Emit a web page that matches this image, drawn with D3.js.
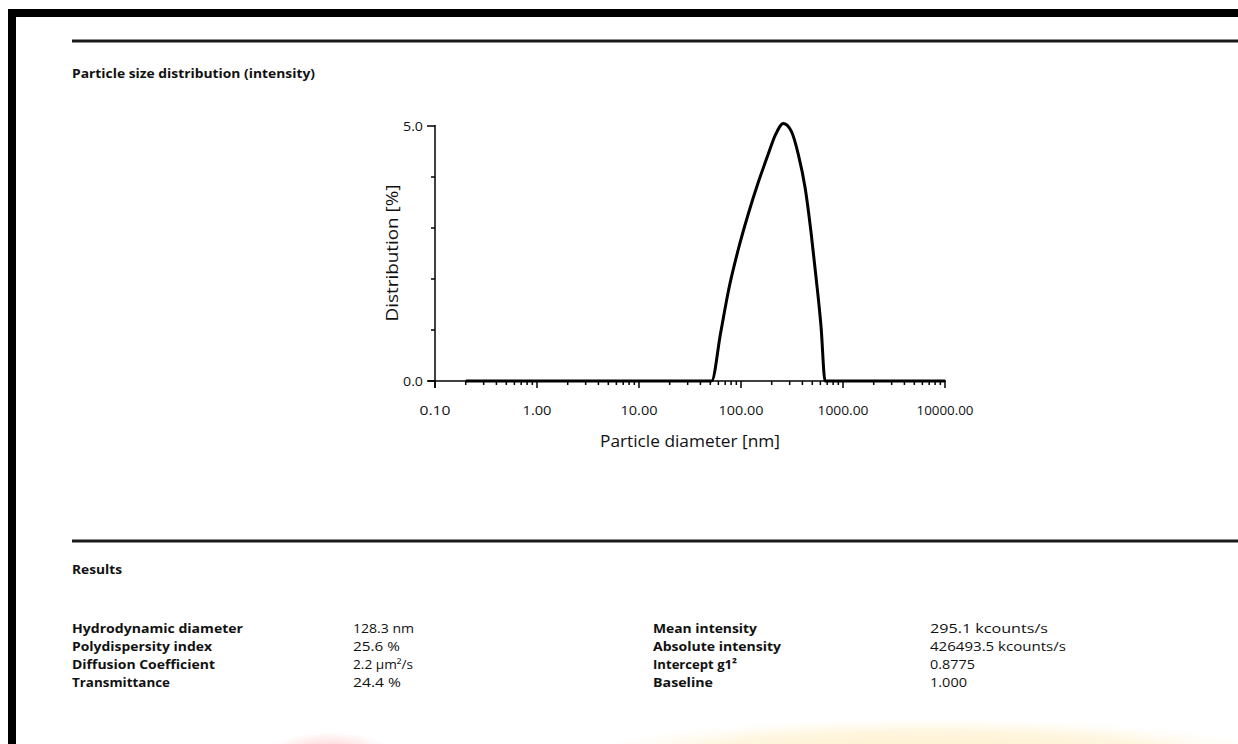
<!DOCTYPE html>
<html><head><meta charset="utf-8">
<script src="https://cdn.jsdelivr.net/npm/d3@7/dist/d3.min.js"></script>
<style>html,body{margin:0;padding:0;background:#fff;}svg{display:block;}</style>
</head><body>
<svg id="c" width="1238" height="744"></svg>
<script>
// ---- data ----
const diameters = [0.2, 0.5, 1, 5, 10, 30, 51.5, 63.1, 75.5, 94.6, 118, 148, 185, 217, 260, 311, 364, 426, 487, 545, 610, 667, 1000, 5000, 10000];
const distribution = [0, 0, 0, 0, 0, 0, 0, 0.94, 1.78, 2.60, 3.28, 3.90, 4.45, 4.82, 5.05, 4.90, 4.45, 3.78, 2.90, 2.02, 1.05, 0, 0, 0, 0];
const xTickValues = [0.1, 1, 10, 100, 1000, 10000];
const xTickLabels = ["0.10", "1.00", "10.00", "100.00", "1000.00", "10000.00"];
const yTickValues = [0, 5];
const yTickLabels = ["0.0", "5.0"];
const resultLabelsLeft = ["Hydrodynamic diameter", "Polydispersity index", "Diffusion Coefficient", "Transmittance"];
const resultValuesLeft = ["128.3 nm", "25.6 %", "2.2 \u00b5m\u00b2/s", "24.4 %"];
const resultLabelsRight = ["Mean intensity", "Absolute intensity", "Intercept g1\u00b2", "Baseline"];
const resultValuesRight = ["295.1 kcounts/s", "426493.5 kcounts/s", "0.8775", "1.000"];
// measured text widths (px) in the reference
const wLabelsLeft = [171, 140, 143, 98];
const wValuesLeft = [61, 47, 60, 48];
const wLabelsRight = [104, 128, 84, 60];
const wValuesRight = [118, 136, 45, 37];
const wXTicks = [31, 29, 37, 45, 51, 57];

const svg = d3.select("#c");
const FONT = "'Open Sans', 'Liberation Sans', sans-serif";

// faint watermark at the bottom
const defs = svg.append("defs");
const rg = defs.append("radialGradient").attr("id","pink");
rg.append("stop").attr("offset","0%").attr("stop-color","#ff6b6b").attr("stop-opacity",0.35);
rg.append("stop").attr("offset","100%").attr("stop-color","#ff6b6b").attr("stop-opacity",0);
const yg = defs.append("radialGradient").attr("id","yel");
yg.append("stop").attr("offset","0%").attr("stop-color","#ffe9b8").attr("stop-opacity",0.9);
yg.append("stop").attr("offset","70%").attr("stop-color","#fff0cc").attr("stop-opacity",0.6);
yg.append("stop").attr("offset","100%").attr("stop-color","#fff6e0").attr("stop-opacity",0);
svg.append("ellipse").attr("cx",930).attr("cy",760).attr("rx",360).attr("ry",42).attr("fill","url(#yel)");
svg.append("ellipse").attr("cx",330).attr("cy",752).attr("rx",60).attr("ry",20).attr("fill","url(#pink)");

// black frame (top and left)
svg.append("rect").attr("x",8).attr("y",9).attr("width",1230).attr("height",8).attr("fill","#000");
svg.append("rect").attr("x",8).attr("y",9).attr("width",8).attr("height",735).attr("fill","#000");

// horizontal rules
[41, 541].forEach(y => {
  svg.append("line").attr("x1",72).attr("x2",1238).attr("y1",y).attr("y2",y)
    .attr("stroke","#1a1a1a").attr("stroke-width",3);
});

function txt(x, y, s, opts) {
  const t = svg.append("text").attr("x",x).attr("y",y).text(s)
    .attr("font-family",FONT).attr("font-size",opts.size||13)
    .attr("font-weight",opts.bold?"bold":"normal").attr("fill","#111");
  if (opts.w) t.attr("textLength",opts.w).attr("lengthAdjust","spacingAndGlyphs");
  if (opts.anchor) t.attr("text-anchor",opts.anchor);
  return t;
}

txt(72, 78, "Particle size distribution (intensity)", {bold:true, size:13, w:243});

// ---- chart ----
const x = d3.scaleLog().domain([0.1, 10000]).range([435, 945]);
const y = d3.scaleLinear().domain([0, 5]).range([381, 126]);

const g = svg.append("g");
// x axis line
g.append("line").attr("x1",428).attr("x2",946).attr("y1",y(0)).attr("y2",y(0)).attr("stroke","#000").attr("stroke-width",1.5);
// y axis line
g.append("line").attr("x1",x(0.1)).attr("x2",x(0.1)).attr("y1",y(5)-1).attr("y2",388).attr("stroke","#000").attr("stroke-width",1.5);

// x ticks: decades (major) and minor
const minor = [];
for (let e = -1; e < 4; e++) for (let k = 2; k <= 9; k++) minor.push(k * Math.pow(10, e));
g.selectAll(".xmin").data(minor).enter().append("line")
  .attr("x1",d=>x(d)).attr("x2",d=>x(d)).attr("y1",y(0)).attr("y2",y(0)+4)
  .attr("stroke","#000").attr("stroke-width",1.5);
g.selectAll(".xmaj").data(xTickValues).enter().append("line")
  .attr("x1",d=>x(d)).attr("x2",d=>x(d)).attr("y1",y(0)).attr("y2",y(0)+7)
  .attr("stroke","#000").attr("stroke-width",1.5);
g.selectAll(".xlab").data(xTickValues).enter().append("text")
  .attr("x",d=>x(d)).attr("y",415).attr("text-anchor","middle")
  .attr("font-family",FONT).attr("font-size",13).attr("fill","#111")
  .attr("textLength",(d,i)=>wXTicks[i]).attr("lengthAdjust","spacingAndGlyphs")
  .text((d,i)=>xTickLabels[i]);

// y ticks
const yMinor = [1,2,3,4];
g.selectAll(".ymin").data(yMinor).enter().append("line")
  .attr("x1",x(0.1)-4).attr("x2",x(0.1)).attr("y1",d=>y(d)).attr("y2",d=>y(d))
  .attr("stroke","#000").attr("stroke-width",1.5);
g.selectAll(".ymaj").data(yTickValues).enter().append("line")
  .attr("x1",x(0.1)-8).attr("x2",x(0.1)).attr("y1",d=>y(d)).attr("y2",d=>y(d))
  .attr("stroke","#000").attr("stroke-width",1.5);
g.selectAll(".ylab").data(yTickValues).enter().append("text")
  .attr("x",x(0.1)-12).attr("y",d=>y(d)+4.5).attr("text-anchor","end")
  .attr("font-family",FONT).attr("font-size",13).attr("fill","#111")
  .attr("textLength",20).attr("lengthAdjust","spacingAndGlyphs")
  .text((d,i)=>yTickLabels[i]);

// axis titles
svg.append("text").attr("transform","translate(398,253) rotate(-90)")
  .attr("text-anchor","middle").attr("font-family",FONT).attr("font-size",16).attr("fill","#111")
  .attr("textLength",137).attr("lengthAdjust","spacingAndGlyphs")
  .text("Distribution [%]");
svg.append("text").attr("x",690).attr("y",447)
  .attr("text-anchor","middle").attr("font-family",FONT).attr("font-size",16).attr("fill","#111")
  .attr("textLength",180).attr("lengthAdjust","spacingAndGlyphs")
  .text("Particle diameter [nm]");

// data line
const pts = diameters.map((d,i)=>[d, distribution[i]]);
const line = d3.line().x(d=>x(d[0])).y(d=>y(d[1])).curve(d3.curveMonotoneX);
g.append("path").attr("d",line(pts)).attr("fill","none").attr("stroke","#000")
  .attr("stroke-width",3).attr("stroke-linejoin","round");

// ---- results ----
txt(72, 574, "Results", {bold:true, size:13, w:50});
const rowY = [633, 651, 669, 687];
rowY.forEach((ry,i)=>{
  txt(72, ry, resultLabelsLeft[i], {bold:true, size:13, w:wLabelsLeft[i]});
  txt(353, ry, resultValuesLeft[i], {size:13, w:wValuesLeft[i]});
  txt(653, ry, resultLabelsRight[i], {bold:true, size:13, w:wLabelsRight[i]});
  txt(930, ry, resultValuesRight[i], {size:13, w:wValuesRight[i]});
});
</script>
</body></html>
